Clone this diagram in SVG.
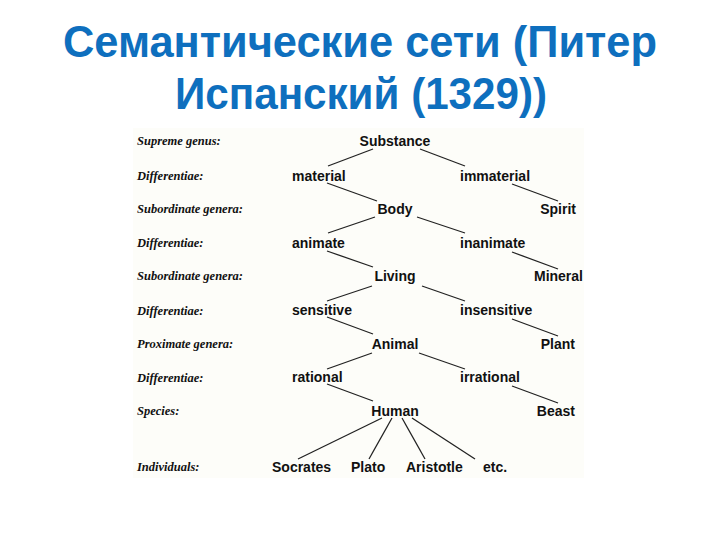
<svg xmlns="http://www.w3.org/2000/svg" width="720" height="540" viewBox="0 0 720 540">
<style>
.title{font-family:"Liberation Sans",Arial,sans-serif;font-weight:bold;font-size:44px;fill:#0E6FBE;text-anchor:middle}
.lab{font-family:"Liberation Serif","Times New Roman",serif;font-weight:bold;font-style:italic;font-size:12.5px;fill:#111}
.n{font-family:"Liberation Sans",Arial,sans-serif;font-weight:bold;font-size:14px;fill:#111;text-anchor:middle}
.s{text-anchor:start}
.r{text-anchor:end}
.e line{stroke:#222;stroke-width:1.3}
</style>
<rect width="720" height="540" fill="#fff"/>
<rect x="133" y="128" width="451" height="350" fill="#fdfdf9"/>
<g id="title">
<text class="title" x="360" y="57" textLength="594" lengthAdjust="spacingAndGlyphs">Семантические сети (Питер</text>
<text class="title" x="361" y="109" textLength="372" lengthAdjust="spacingAndGlyphs">Испанский (1329))</text>
</g>
<g id="row-labels">
<text class="lab" x="137" y="145">Supreme genus:</text>
<text class="lab" x="137" y="180">Differentiae:</text>
<text class="lab" x="137" y="213">Subordinate genera:</text>
<text class="lab" x="137" y="247">Differentiae:</text>
<text class="lab" x="137" y="280">Subordinate genera:</text>
<text class="lab" x="137" y="315">Differentiae:</text>
<text class="lab" x="137" y="348">Proximate genera:</text>
<text class="lab" x="137" y="382">Differentiae:</text>
<text class="lab" x="137" y="415">Species:</text>
<text class="lab" x="137" y="471">Individuals:</text>
</g>
<g class="e" id="connectors">
<line x1="373" y1="149" x2="328" y2="166"/>
<line x1="420" y1="149" x2="465" y2="166"/>
<line x1="327" y1="183" x2="377" y2="201"/>
<line x1="512" y1="184" x2="558" y2="201"/>
<line x1="375" y1="217" x2="328" y2="233"/>
<line x1="417" y1="217" x2="465" y2="233"/>
<line x1="327" y1="251" x2="373" y2="267"/>
<line x1="512" y1="252" x2="558" y2="269"/>
<line x1="372" y1="286" x2="327" y2="301"/>
<line x1="422" y1="286" x2="465" y2="301"/>
<line x1="327" y1="317" x2="373" y2="334"/>
<line x1="512" y1="319" x2="558" y2="336"/>
<line x1="372" y1="353" x2="327" y2="369"/>
<line x1="419" y1="353" x2="465" y2="369"/>
<line x1="327" y1="384" x2="373" y2="401"/>
<line x1="512" y1="386" x2="558" y2="403"/>
<line x1="382" y1="418" x2="298" y2="459"/>
<line x1="392" y1="418" x2="369" y2="459"/>
<line x1="402" y1="418" x2="425" y2="459"/>
<line x1="412" y1="418" x2="475" y2="459"/>
</g>
<g id="substance"><text class="n" x="395" y="146">Substance</text></g>
<g id="material"><text class="n s" x="292" y="181">material</text></g>
<g id="immaterial"><text class="n s" x="460" y="181">immaterial</text></g>
<g id="body"><text class="n" x="395" y="214">Body</text></g>
<g id="spirit"><text class="n r" x="576" y="214">Spirit</text></g>
<g id="animate"><text class="n s" x="292" y="248">animate</text></g>
<g id="inanimate"><text class="n s" x="460" y="248">inanimate</text></g>
<g id="living"><text class="n" x="395" y="281">Living</text></g>
<g id="mineral"><text class="n r" x="583" y="281">Mineral</text></g>
<g id="sensitive"><text class="n s" x="292" y="315">sensitive</text></g>
<g id="insensitive"><text class="n s" x="460" y="315">insensitive</text></g>
<g id="animal"><text class="n" x="395" y="349">Animal</text></g>
<g id="plant"><text class="n r" x="575" y="349">Plant</text></g>
<g id="rational"><text class="n s" x="292" y="382">rational</text></g>
<g id="irrational"><text class="n s" x="460" y="382">irrational</text></g>
<g id="human"><text class="n" x="395" y="416">Human</text></g>
<g id="beast"><text class="n r" x="575" y="416">Beast</text></g>
<g id="socrates"><text class="n s" x="272" y="472">Socrates</text></g>
<g id="plato"><text class="n s" x="351" y="472">Plato</text></g>
<g id="aristotle"><text class="n s" x="406" y="472">Aristotle</text></g>
<g id="etc"><text class="n s" x="483" y="472">etc.</text></g>
</svg>
